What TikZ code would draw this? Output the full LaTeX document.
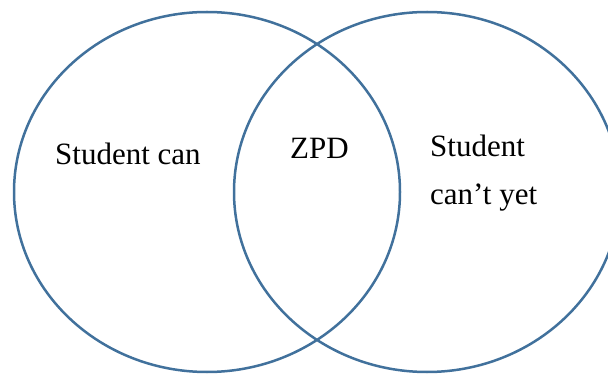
\documentclass[tikz,border=0pt]{standalone}
\usepackage{fontspec}
\setmainfont{Liberation Serif}
\definecolor{vennblue}{RGB}{65,113,156}
\begin{document}
\begin{tikzpicture}[x=1pt,y=-1pt,
  venn/.style={draw=vennblue,line width=2.5pt},
  lbl/.style={anchor=base west,inner sep=0pt,font=\fontsize{31}{48}\selectfont}]
\useasboundingbox (0,0) rectangle (608,374);
\begin{scope}
\clip (0,0) rectangle (608,374);
\draw[venn] (207,192) ellipse [x radius=193, y radius=180];
\draw[venn] (427,192) ellipse [x radius=193, y radius=180];
\end{scope}
\node[lbl] (can) at (55,165) {Student can};
\node[lbl] (zpd) at (290,159) {ZPD};
\node[lbl] (cant1) at (430,157) {Student};
\node[lbl] (cant2) at (430,205) {can’t yet};
\end{tikzpicture}
\end{document}
